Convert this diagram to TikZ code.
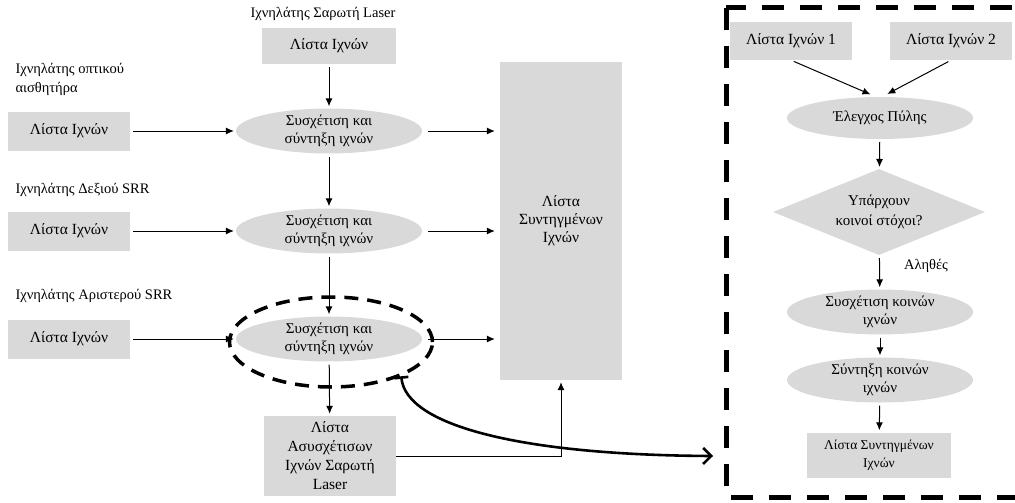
\documentclass[tikz,border=0pt]{standalone}
\usepackage{fontspec}
\setmainfont{Liberation Serif}
\usetikzlibrary{shapes.geometric,arrows.meta}
\definecolor{boxgray}{HTML}{D9D9D9}
\begin{document}
\begin{tikzpicture}[x=1pt,y=-1pt,
  box/.style={fill=boxgray, draw=none, minimum width=122pt, minimum height=39pt,
    inner sep=2pt, align=center, font=\fontsize{15.5}{18}\selectfont},
  oval/.style={ellipse, fill=boxgray, minimum width=186pt, minimum height=42pt,
    inner sep=0pt, align=center, font=\fontsize{15}{18}\selectfont},
  lab/.style={anchor=west, align=left, font=\fontsize{14.5}{19}\selectfont},
  arr/.style={-{Latex[length=8pt,width=7pt]}, line width=1pt,
    shorten <=3pt, shorten >=2pt},
  frame/.style={line width=5pt, dash pattern=on 22pt off 16pt},
  focusring/.style={ellipse, draw, line width=3.5pt, dash pattern=on 14pt off 9pt,
    minimum width=203pt, minimum height=90pt, inner sep=0pt},
  jump/.style={line width=2.6pt, {Bar[width=14pt]}-{Straight Barb[length=8pt,width=16pt]}},
]
\clip (0,0) rectangle (1015,503);

% ---- sensor track lists and fusion chain ----
\node[lab, anchor=center] (tlaser) at (323,14) {Ιχνηλάτης Σαρωτή Laser};
\node[box, minimum width=134pt, minimum height=36pt] (l0) at (329,46) {Λίστα Ιχνών};

\node[lab] (topt) at (12,79) {Ιχνηλάτης οπτικού\\αισθητήρα};
\node[box] (l1) at (69,131) {Λίστα Ιχνών};
\node[oval] (f1) at (329,131) {Συσχέτιση και\\σύντηξη ιχνών};

\node[lab] (tright) at (12,190) {Ιχνηλάτης Δεξιού SRR};
\node[box] (l2) at (69,231) {Λίστα Ιχνών};
\node[oval] (f2) at (329,231) {Συσχέτιση και\\σύντηξη ιχνών};

\node[lab] (tleft) at (12,296) {Ιχνηλάτης Αριστερού SRR};
\node[box] (l3) at (69,339) {Λίστα Ιχνών};
\node[oval] (f3) at (329,339) {Συσχέτιση και\\σύντηξη ιχνών};
\node[focusring] (focus) at (331,342) {};

\node[box, minimum width=132pt, minimum height=80pt, font=\fontsize{15.5}{19}\selectfont]
  (un) at (330,456) {Λίστα\\Ασυσχέτισων\\Ιχνών Σαρωτή\\Laser};
\node[box, minimum height=318pt] (big) at (561,221) {Λίστα\\Συντηγμένων\\Ιχνών};

\draw[arr] (l0) -- (f1);
\draw[arr] (l1) -- (f1);
\draw[arr] (l2) -- (f2);
\draw[arr] (l3) -- (f3);
\draw[arr] (f1) -- (f2);
\draw[arr] (f2) -- (f3);
\draw[arr] (f3) -- (un);
\draw[arr, shorten <=6pt, shorten >=5pt] (f1.east) -- (f1.east -| big.west);
\draw[arr, shorten <=6pt, shorten >=5pt] (f2.east) -- (f2.east -| big.west);
\draw[arr, shorten <=6pt, shorten >=5pt] (f3.east) -- (f3.east -| big.west);
\draw[arr, shorten <=0pt] (un.east) -| (big.south);

% ---- detail of one fusion step ----
\draw[frame] (726,8) rectangle (1045,497);
\node[box, minimum height=38pt] (r1) at (791,41) {Λίστα Ιχνών 1};
\node[box, minimum height=38pt] (r2) at (951,41) {Λίστα Ιχνών 2};
\node[oval] (gate) at (880,118) {Έλεγχος Πύλης};
\node[diamond, aspect=2.47, fill=boxgray, minimum width=212pt, minimum height=86pt,
  inner sep=0pt, align=center, font=\fontsize{15}{20}\selectfont] (common) at (879,212)
  {Υπάρχουν\\κοινοί στόχοι?};
\node[oval, minimum height=45pt] (assoc) at (880,312) {Συσχέτιση κοινών\\ιχνών};
\node[oval, minimum height=45pt] (fuse) at (880,380) {Σύντηξη κοινών\\ιχνών};
\node[box, minimum width=144pt, minimum height=45pt, font=\fontsize{13.5}{18}\selectfont]
  (out) at (879,455) {Λίστα Συντηγμένων\\Ιχνών};
\node[font=\fontsize{14.5}{17}\selectfont] (true) at (926,266) {Αληθές};

\draw[arr, shorten >=6pt] (r1.south) -- ([xshift=-4pt]gate.north);
\draw[arr, shorten >=6pt] (r2.south) -- ([xshift=2pt]gate.north);
\draw[arr] (gate) -- (common);
\draw[arr] (common) -- (assoc);
\draw[arr] (assoc) -- (fuse);
\draw[arr] (fuse) -- (out);

% ---- link from the highlighted step to its detail ----
\coordinate (hit) at (713,456);
\draw[jump] (focus.-26) .. controls +(5,50) and +(-190,-1) .. (hit);
\end{tikzpicture}
\end{document}
